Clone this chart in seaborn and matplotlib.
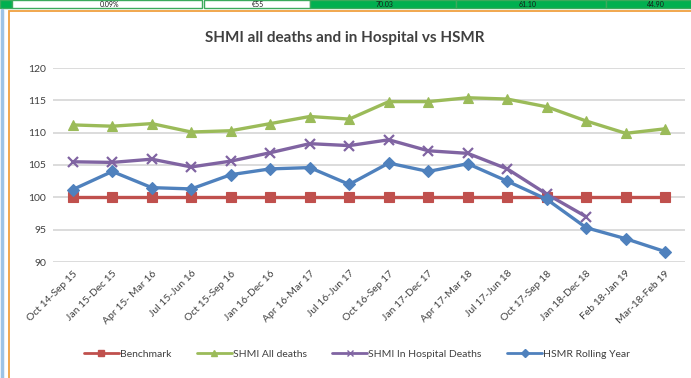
import numpy as np
import pandas as pd
import matplotlib
matplotlib.use("Agg")
import matplotlib.pyplot as plt
from matplotlib.lines import Line2D
from matplotlib.patches import Rectangle
import seaborn as sns

periods = [
    "Oct 14-Sep 15", "Jan 15-Dec 15", "Apr 15- Mar 16", "Jul 15-Jun 16",
    "Oct 15-Sep 16", "Jan 16-Dec 16", "Apr 16-Mar 17", "Jul 16-Jun 17",
    "Oct 16-Sep 17", "Jan 17-Dec 17", "Apr 17-Mar 18", "Jul 17-Jun 18",
    "Oct 17-Sep 18", "Jan 18-Dec 18", "Feb 18-Jan 19", "Mar-18-Feb 19",
]
benchmark = [100] * 16
shmi_all = [111.2, 111.0, 111.4, 110.1, 110.3, 111.4, 112.5, 112.1, 114.8,
            114.8, 115.4, 115.2, 114.0, 111.8, 109.9, 110.6]
shmi_hospital = [105.5, 105.4, 105.9, 104.7, 105.6, 106.9, 108.3, 108.0, 108.9,
                 107.2, 106.8, 104.4, 100.5, 97.0, np.nan, np.nan]
hsmr = [101.2, 104.0, 101.5, 101.3, 103.5, 104.4, 104.6, 102.0, 105.3,
        104.0, 105.2, 102.5, 99.7, 95.3, 93.6, 91.6]

y_ticks = [90, 95, 100, 105, 110, 115, 120]
title = "SHMI all deaths and in Hospital vs HSMR"

# spreadsheet row peeking in above the chart
strip_cells = [(0, 12, "#00B050"), (12, 202, "white"), (204, 310, "white"),
               (310, 456, "#00B050"), (456, 606, "#00B050"), (606, 691, "#00B050")]
strip_texts = [(110, "0.09%"), (258, "€55"), (385, "70.03"), (528, "61.10"), (656, "44.90")]

series = [
    ("Benchmark", benchmark, "#C0504D", "s", 7.0),
    ("SHMI All deaths", shmi_all, "#9BBB59", "^", 7.5),
    ("SHMI In Hospital Deaths", shmi_hospital, "#8064A2", "x", 7.5),
    ("HSMR Rolling Year", hsmr, "#4F81BD", "D", 6.0),
]

sns.set_theme(style="white")
plt.rcParams["font.family"] = ["Lato", "DejaVu Sans"]

W, H = 691, 378
fig = plt.figure(figsize=(W / 100, H / 100), dpi=100)

def fx(px):
    return px / W

def fy(py):
    return 1 - py / H

ax = fig.add_axes([fx(53), fy(262), fx(685) - fx(53), fy(68) - fy(262)])

x = np.arange(len(periods))
handles = []
for name, vals, color, marker, ms in series:
    df = pd.DataFrame({"x": x, "y": vals}).dropna()
    sns.lineplot(data=df, x="x", y="y", ax=ax, color=color, lw=2.4,
                 marker=marker, markersize=ms, markeredgecolor=color,
                 markeredgewidth=1.6 if marker == "x" else 0.8, zorder=3)
    handles.append(Line2D([0], [0], color=color, lw=2.0, marker=marker,
                          markersize=4, markeredgecolor=color, label=name))

ax.set_xlim(-0.5, len(periods) - 0.5)
ax.set_ylim(90, 120)
ax.set_yticks(y_ticks)
ax.set_yticklabels([str(v) for v in y_ticks], fontsize=7.5, color="#404040")
ax.set_xticks(x)
ax.set_xticklabels(periods, rotation=45, ha="right", rotation_mode="anchor",
                   fontsize=7.5, color="#404040")
ax.tick_params(axis="both", length=0, pad=5)
ax.set_xlabel("")
ax.set_ylabel("")
ax.grid(axis="y", color="#D9D9D9", lw=1.3)
ax.grid(axis="x", visible=False)
for s in ax.spines.values():
    s.set_visible(False)

fig.text(fx(345), fy(38), title, ha="center", va="center",
         fontsize=11, fontweight="bold", color="#404040")

fig.legend(handles=handles, loc="center", bbox_to_anchor=(fx(357), fy(354)),
           ncol=4, frameon=False, fontsize=7.5, handlelength=3.4,
           columnspacing=2.4, handletextpad=0.1, labelcolor="#404040")

# surrounding sheet decoration
strip_h = 7.5
for x0, x1, c in strip_cells:
    fig.add_artist(Rectangle((fx(x0), fy(strip_h)), fx(x1 - x0), strip_h / H,
                             transform=fig.transFigure, facecolor=c,
                             edgecolor="#3BAA5C", lw=1.0))
for xc, t in strip_texts:
    fig.text(fx(xc), fy(strip_h / 2 + 0.3), t, ha="center", va="center",
             fontsize=5, color="#1a1a1a")
fig.add_artist(Rectangle((fx(9), -0.05), 1.2, fy(11) + 0.05,
                         transform=fig.transFigure, facecolor="none",
                         edgecolor="#F0A040", lw=1.3))
fig.add_artist(Line2D([fx(1.5), fx(1.5)], [0, fy(10)], transform=fig.transFigure,
                      color="#9DC3E6", lw=2.5))

fig.savefig("out.png", dpi=100)
